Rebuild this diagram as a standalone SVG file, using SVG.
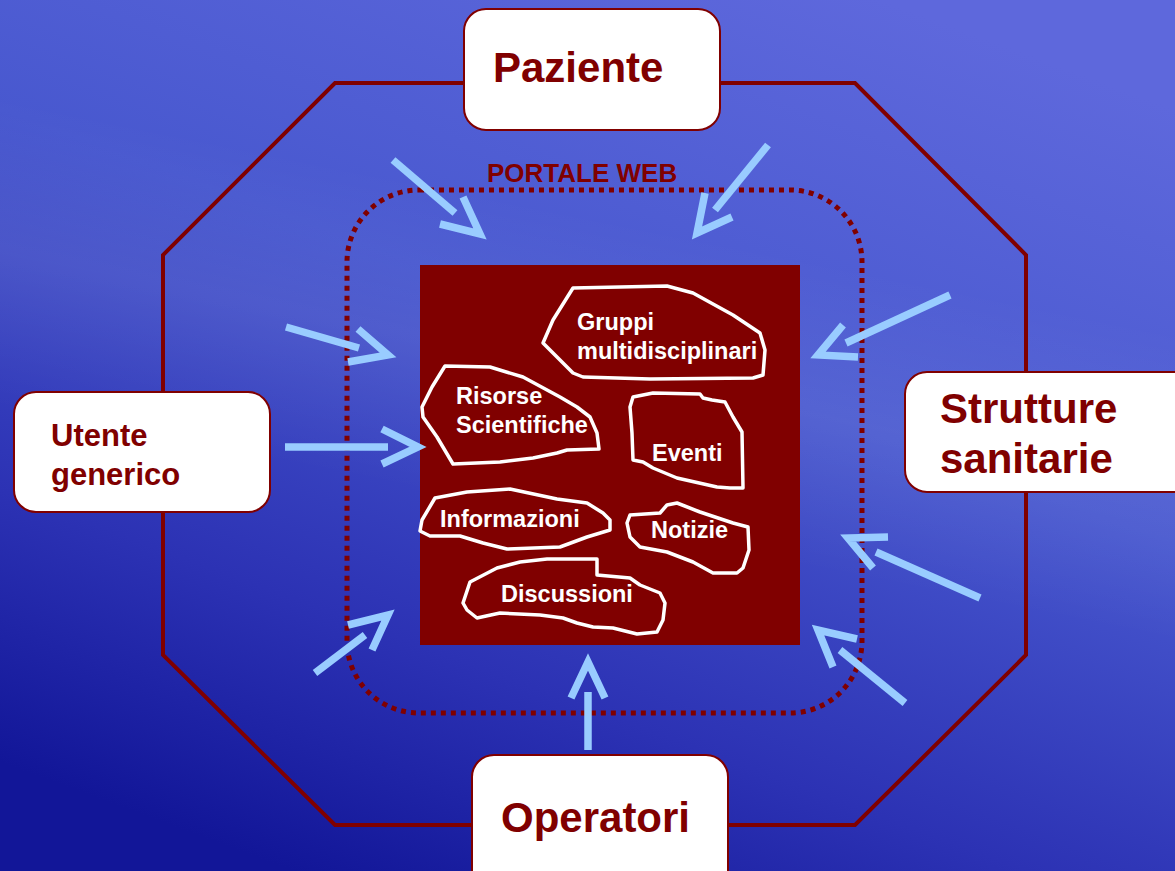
<svg xmlns="http://www.w3.org/2000/svg" width="1175" height="871" viewBox="0 0 1175 871">
<defs>
<linearGradient id="bg" x1="0.75" y1="0" x2="0.25" y2="1">
<stop offset="0" stop-color="#5e68dc"/>
<stop offset="0.4" stop-color="#4858cf"/>
<stop offset="0.75" stop-color="#2c32b4"/>
<stop offset="1" stop-color="#121698"/>
</linearGradient>
<linearGradient id="band" gradientUnits="userSpaceOnUse" x1="620" y1="220" x2="560" y2="520">
<stop offset="0" stop-color="#ffffff" stop-opacity="0"/>
<stop offset="0.5" stop-color="#ffffff" stop-opacity="0.07"/>
<stop offset="1" stop-color="#ffffff" stop-opacity="0"/>
</linearGradient>
<style>
.oct{fill:none;stroke:#800000;stroke-width:4;stroke-linejoin:miter}
.portal{fill:none;stroke:#800000;stroke-width:5;stroke-dasharray:5 5}
.box{fill:#ffffff;stroke:#800000;stroke-width:2}
.big{font-family:"Liberation Sans",Arial,sans-serif;font-weight:bold;fill:#800000}
.blob{fill:none;stroke:#ffffff;stroke-width:3.5;stroke-linejoin:round}
.lbl{font-family:"Liberation Sans",Arial,sans-serif;font-weight:bold;font-size:23.5px;fill:#ffffff}
.arr{fill:none;stroke:#99ccff;stroke-width:7.5;stroke-linecap:butt;stroke-linejoin:miter}
</style>
</defs>
<rect x="0" y="0" width="1175" height="871" fill="url(#bg)"/>
<rect x="0" y="0" width="1175" height="871" fill="url(#band)"/>

<polygon class="oct" points="335,83 855,83 1026,255 1026,655 855,825 335,825 163,655 163,255"/>
<rect class="portal" x="347" y="190" width="515" height="523" rx="72" ry="72"/>
<text class="big" x="487" y="182" font-size="26">PORTALE WEB</text>

<g id="core">
<rect x="420" y="265" width="380" height="380" fill="#800000"/>
</g>

<g id="gruppi">
<path class="blob" d="M573,288 L667,286 L693,293 L733,315 L760,333 L765,350 L763,375 L753,378 L650,379 L583,377 L573,373 L543,343 L553,320 Z"/>
<text class="lbl" x="577" y="330">Gruppi</text>
<text class="lbl" x="577" y="359">multidisciplinari</text>
</g>
<g id="risorse">
<path class="blob" d="M445,366 L490,367 L523,377 L560,397 L577,407 L590,417 L597,433 L599,449 L567,450 L557,453 L533,458 L500,462 L453,464 L437,437 L423,417 L422,407 L432,387 Z"/>
<text class="lbl" x="456" y="404">Risorse</text>
<text class="lbl" x="456" y="433">Scientifiche</text>
</g>
<g id="eventi">
<path class="blob" d="M633,397 L653,393 L700,394 L703,398 L712,400 L725,402 L733,417 L742,432 L743,488 L730,488 L717,487 L677,478 L653,468 L643,462 L633,460 L632,433 L630,407 Z"/>
<text class="lbl" x="652" y="461">Eventi</text>
</g>
<g id="informazioni">
<path class="blob" d="M435,498 L467,492 L510,489 L557,499 L587,503 L603,513 L610,520 L610,530 L587,537 L560,547 L507,549 L483,543 L460,536 L430,536 L420,531 L422,520 Z"/>
<text class="lbl" x="440" y="527">Informazioni</text>
</g>
<g id="notizie">
<path class="blob" d="M630,515 L660,513 L667,505 L677,503 L700,512 L733,523 L748,527 L749,550 L743,568 L737,573 L713,573 L693,562 L667,552 L640,547 L630,537 L627,523 Z"/>
<text class="lbl" x="651" y="538">Notizie</text>
</g>
<g id="discussioni">
<path class="blob" d="M470,582 L497,568 L520,562 L547,559 L597,559 L597,575 L630,578 L640,585 L660,593 L665,603 L663,620 L657,632 L637,634 L613,628 L593,627 L577,623 L563,618 L540,615 L500,613 L477,618 L467,610 L463,603 Z"/>
<text class="lbl" x="501" y="602">Discussioni</text>
</g>

<g id="connectors">
<line class="arr" x1="393" y1="160" x2="455" y2="213"/>
<polyline class="arr" points="463,197 480,234 440,224"/>
<line class="arr" x1="768" y1="145" x2="715" y2="210"/>
<polyline class="arr" points="705,193 697,233 732,217"/>
<line class="arr" x1="950" y1="295" x2="846" y2="343"/>
<polyline class="arr" points="843,325 818,355 858,357"/>
<line class="arr" x1="980" y1="598" x2="876" y2="552"/>
<polyline class="arr" points="888,537 848,538 873,568"/>
<line class="arr" x1="905" y1="703" x2="840" y2="650"/>
<polyline class="arr" points="857,639 818,630 833,667"/>
<line class="arr" x1="286" y1="327" x2="359" y2="348"/>
<polyline class="arr" points="358,329 388,355 348,362"/>
<line class="arr" x1="285" y1="447" x2="388" y2="447"/>
<polyline class="arr" points="382,429 418,447 382,464"/>
<line class="arr" x1="315" y1="673" x2="365" y2="635"/>
<polyline class="arr" points="348,625 388,615 372,650"/>
<line class="arr" x1="588" y1="750" x2="588" y2="692"/>
<polyline class="arr" points="571,698 588,662 605,698"/>
</g>

<g id="paziente">
<rect class="box" x="464" y="9" width="256" height="121" rx="22" ry="22"/>
<text class="big" x="493" y="82" font-size="42">Paziente</text>
</g>
<g id="utente">
<rect class="box" x="14" y="392" width="256" height="120" rx="22" ry="22"/>
<text class="big" x="51" y="446" font-size="31">Utente</text>
<text class="big" x="51" y="485" font-size="31">generico</text>
</g>
<g id="strutture">
<rect class="box" x="905" y="372" width="300" height="120" rx="22" ry="22"/>
<text class="big" x="940" y="423" font-size="42">Strutture</text>
<text class="big" x="940" y="473" font-size="42">sanitarie</text>
</g>
<g id="operatori">
<rect class="box" x="472" y="755" width="256" height="140" rx="22" ry="22"/>
<text class="big" x="501" y="832" font-size="42">Operatori</text>
</g>
</svg>
